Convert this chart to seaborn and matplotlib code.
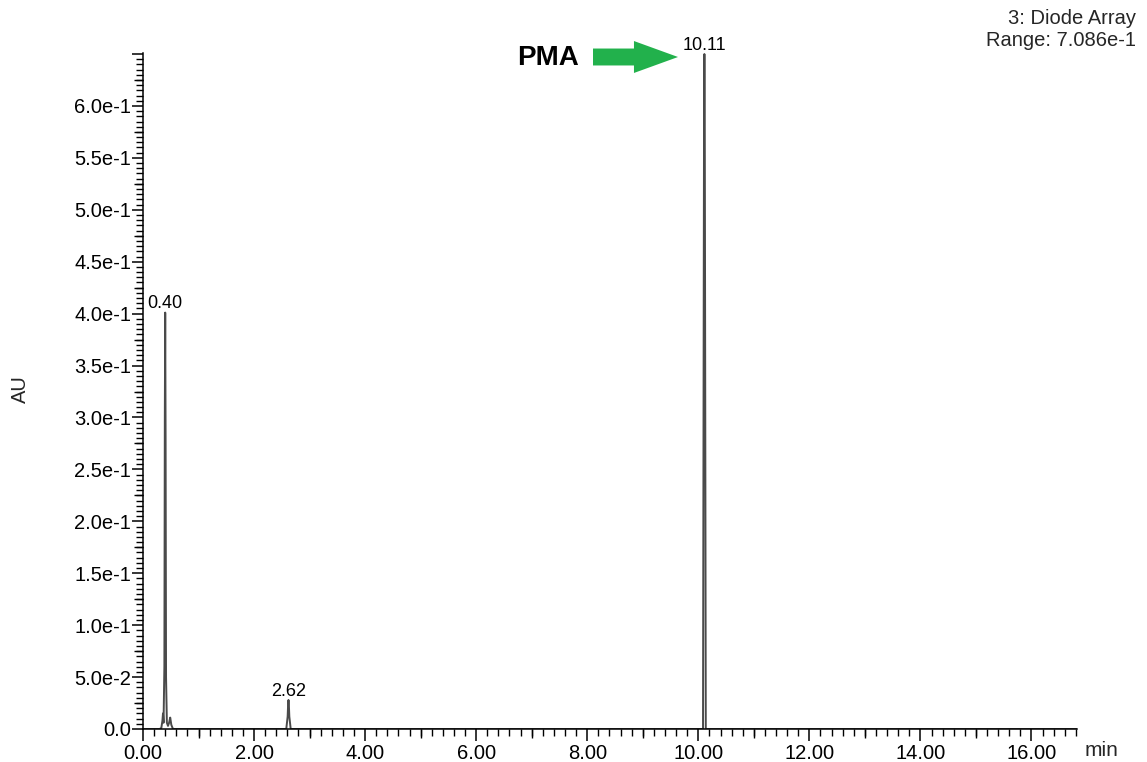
import numpy as np
import pandas as pd
import seaborn as sns
import matplotlib.pyplot as plt
from matplotlib.ticker import FixedLocator, MultipleLocator, FuncFormatter

# Chromatogram trace vertices: retention time (min) and absorbance (AU)
time_min = [0.00, 0.30, 0.33, 0.350, 0.360, 0.370, 0.385, 0.393, 0.400, 0.407, 0.415, 0.430,
            0.450, 0.470, 0.490, 0.510, 0.540,
            2.580, 2.605, 2.615, 2.620, 2.625, 2.635, 2.660,
            10.085, 10.098, 10.105, 10.110, 10.115, 10.122, 10.135,
            16.82]
absorbance = [0.000, 0.000, 0.001, 0.008, 0.015, 0.006, 0.060, 0.300, 0.401, 0.280, 0.050, 0.006,
              0.003, 0.006, 0.011, 0.004, 0.000,
              0.000, 0.012, 0.026, 0.028, 0.026, 0.012, 0.000,
              0.000, 0.420, 0.630, 0.650, 0.630, 0.420, 0.000,
              0.000]

# Labelled peaks (retention time, apex absorbance)
peak_times = [0.40, 2.62, 10.11]
peak_heights = [0.401, 0.028, 0.650]

# Axis ticks
x_major = [0, 2, 4, 6, 8, 10, 12, 14, 16]
x_mid = [1, 3, 5, 7, 9, 11, 13, 15]
y_major = [0.00, 0.05, 0.10, 0.15, 0.20, 0.25, 0.30, 0.35, 0.40, 0.45, 0.50, 0.55, 0.60, 0.65]
y_mid = [0.025, 0.075, 0.125, 0.175, 0.225, 0.275, 0.325, 0.375, 0.425, 0.475,
         0.525, 0.575, 0.625]

detector = "3: Diode Array"
range_text = "Range: 7.086e-1"
compound = "PMA"

sns.set_style("ticks")
plt.rcParams['font.family'] = ['Liberation Sans', 'DejaVu Sans']

W, H = 1147, 762
fig = plt.figure(figsize=(W / 100, H / 100), dpi=100)
ax = fig.add_axes([143 / W, 1 - 729 / H, (1077 - 143) / W, (729 - 53) / H])

trace = pd.DataFrame({"time": time_min, "au": absorbance})
sns.lineplot(data=trace, x="time", y="au", sort=False, estimator=None,
             color="#4a4a4a", linewidth=1.4, ax=ax)

ax.set_xlim(0, 16.82)
ax.set_ylim(0, 0.651)
ax.set_xlabel("")
ax.set_ylabel("")
sns.despine(ax=ax)
for s in ("left", "bottom"):
    ax.spines[s].set_linewidth(1.1)
    ax.spines[s].set_color("black")


def y_fmt(v, pos):
    if abs(v) < 1e-9:
        return "0.0"
    if v > 0.62:
        return ""
    mant, ex = f"{v:.1e}".split("e")
    return f"{mant}e{int(ex)}"


ax.xaxis.set_major_locator(FixedLocator(x_major))
ax.xaxis.set_major_formatter(FuncFormatter(lambda v, p: f"{v:.2f}"))
ax.xaxis.set_minor_locator(MultipleLocator(0.2))
ax.yaxis.set_major_locator(FixedLocator(y_major))
ax.yaxis.set_major_formatter(FuncFormatter(y_fmt))
ax.yaxis.set_minor_locator(MultipleLocator(0.005))

ax.tick_params(axis="x", which="major", length=8.5, width=1.1, pad=2, labelsize=14.5, colors="black")
ax.tick_params(axis="y", which="major", length=8.0, width=1.1, pad=0.5, labelsize=14.5, colors="black")
ax.tick_params(axis="both", which="minor", length=4.8, width=1.0, colors="black")

# Intermediate-length ticks
sec_x = ax.secondary_xaxis("bottom")
sec_x.set_xticks(x_mid)
sec_x.tick_params(length=6.5, width=1.0, labelbottom=False, colors="black")
sec_x.spines["bottom"].set_visible(False)
sec_y = ax.secondary_yaxis("left")
sec_y.set_yticks(y_mid)
sec_y.tick_params(length=6.5, width=1.0, labelleft=False, colors="black")
sec_y.spines["left"].set_visible(False)

for t, h in zip(peak_times, peak_heights):
    ax.annotate(f"{t:.2f}", xy=(t, h), xytext=(0, 3), textcoords="offset points",
                ha="center", va="baseline", fontsize=13, color="black")

fig.text(1136 / W, 1 - 24 / H, detector, ha="right", va="baseline", fontsize=14.5)
fig.text(1136 / W, 1 - 46 / H, range_text, ha="right", va="baseline", fontsize=14.5)
fig.text(20 / W, 1 - 389 / H, "AU", rotation=90, ha="center", va="center", fontsize=14.5)
fig.text(1101 / W, 1 - 750 / H, "min", ha="center", va="center", fontsize=15)

fig.text(517 / W, 1 - 65 / H, compound, ha="left", va="baseline",
         fontsize=20, fontweight="bold", color="black")
ax.annotate("", xy=(678, H - 57), xytext=(593, H - 57),
            xycoords="figure pixels", textcoords="figure pixels",
            arrowprops=dict(arrowstyle="simple,head_length=3.17,head_width=2.3,tail_width=1.22",
                            mutation_scale=10, fc="#22b14c", ec="none",
                            shrinkA=0, shrinkB=0))

fig.savefig("out.png", dpi=100)
